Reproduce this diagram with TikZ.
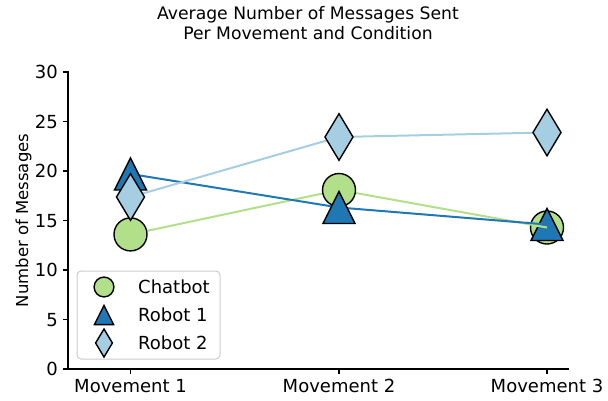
\documentclass[tikz,border=0pt]{standalone}
\usepackage{fontspec}
\setmainfont{DejaVu Sans}
\usetikzlibrary{calc}
\definecolor{cgreen}{HTML}{B2DF8A}
\definecolor{cblue}{HTML}{1F78B4}
\definecolor{clight}{HTML}{A6CEE3}
\definecolor{legframe}{HTML}{CCCCCC}
\begin{document}
\begin{tikzpicture}[x=1pt,y=-1pt,
  spine/.style={line width=1.1pt, line cap=rect},
  tickmark/.style={line width=1.1pt},
  ticklab/.style={font=\fontsize{18}{21}\selectfont, inner sep=0pt},
  leglab/.style={font=\fontsize{18}{21}\selectfont, inner sep=0pt, anchor=base west},
  titlab/.style={anchor=base, inner sep=0pt, font=\fontsize{17.2}{20}\selectfont},
  series/.style={line width=2pt},
  medge/.style={draw=black, line width=1.4pt, line join=miter},
  chatmark/.pic={\path[medge, fill=cgreen] (0,0) circle (16.5);},
  robamark/.pic={\path[medge, fill=cblue] (0,-16) -- (16,16) -- (-16,16) -- cycle;},
  robbmark/.pic={\path[medge, fill=clight] (0,-23.3) -- (14,0) -- (0,23.3) -- (-14,0) -- cycle;},
  legbox/.style={draw=legframe, line width=1pt, rounded corners=4pt, fill=white, fill opacity=0.8}
]
\useasboundingbox (0,0) rectangle (608,400);

% title
\node[titlab] (t1) at (308,19.5) {Average Number of Messages Sent};
\node[titlab] (t2) at (308,39.5) {Per Movement and Condition};

% axes
\coordinate (o) at (68,369);
\coordinate (ytop) at (68,72);
\coordinate (xend) at (568,369);
\draw[spine] (ytop) -- (o) -- (xend);

% y ticks
\foreach \v/\n in {0/y0,5/y5,10/y10,15/y15,20/y20,25/y25,30/y30} {
  \coordinate (\n) at (68,{369-9.9*\v});
  \draw[tickmark] (\n) -- ++(-5,0);
  \node[ticklab, anchor=base east] (\n l) at ($(\n)+(-10,6.5)$) {\v};
}
% x ticks
\foreach \x/\n/\t in {130.5/m1/Movement 1,339/m2/Movement 2,547/m3/Movement 3} {
  \coordinate (\n) at (\x,369);
  \draw[tickmark] (\n) -- ++(0,5);
  \node[ticklab, anchor=base] (\n l) at (\x,392) {\t};
}

% y label
\node[rotate=90, anchor=base, inner sep=0pt, font=\fontsize{16.5}{19}\selectfont] (ylab) at (28,220.5) {Number of Messages};

% data points
\coordinate (c1) at (130.5,234.4);
\coordinate (c2) at (339,190);
\coordinate (c3) at (547,227.5);
\coordinate (a1) at (130.5,174);
\coordinate (a2) at (339,207.5);
\coordinate (a3) at (547,224.5);
\coordinate (b1) at (130.5,197);
\coordinate (b2) at (339,137);
\coordinate (b3) at (547,132.5);

% lines
\draw[series, cgreen] (c1) -- (c2) -- (c3);
\draw[series, cblue] (a1) -- (a2) -- (a3);
\draw[series, clight] (b1) -- (b2) -- (b3);

% markers
\foreach \i in {1,2,3} {
  \pic at (c\i) {chatmark};
  \pic at (a\i) {robamark};
  \pic at (b\i) {robbmark};
}

% line ends drawn over the markers at Movement 3
\draw[series, cgreen] ($(c2)!0.9!(c3)$) -- (c3);
\draw[series, cblue] ($(a2)!0.9!(a3)$) -- (a3);

% legend
\draw[legbox] (77,271) rectangle (220,359);
\coordinate (l1) at (104,287);
\coordinate (l2) at (104,315);
\coordinate (l3) at (104,343);
\pic[scale=0.6] at (l1) {chatmark};
\pic[scale=0.6] at (l2) {robamark};
\pic[scale=0.6] at (l3) {robbmark};
\node[leglab] (lt1) at (138,293.5) {Chatbot};
\node[leglab] (lt2) at (138,321.5) {Robot 1};
\node[leglab] (lt3) at (138,349.5) {Robot 2};
\end{tikzpicture}
\end{document}
